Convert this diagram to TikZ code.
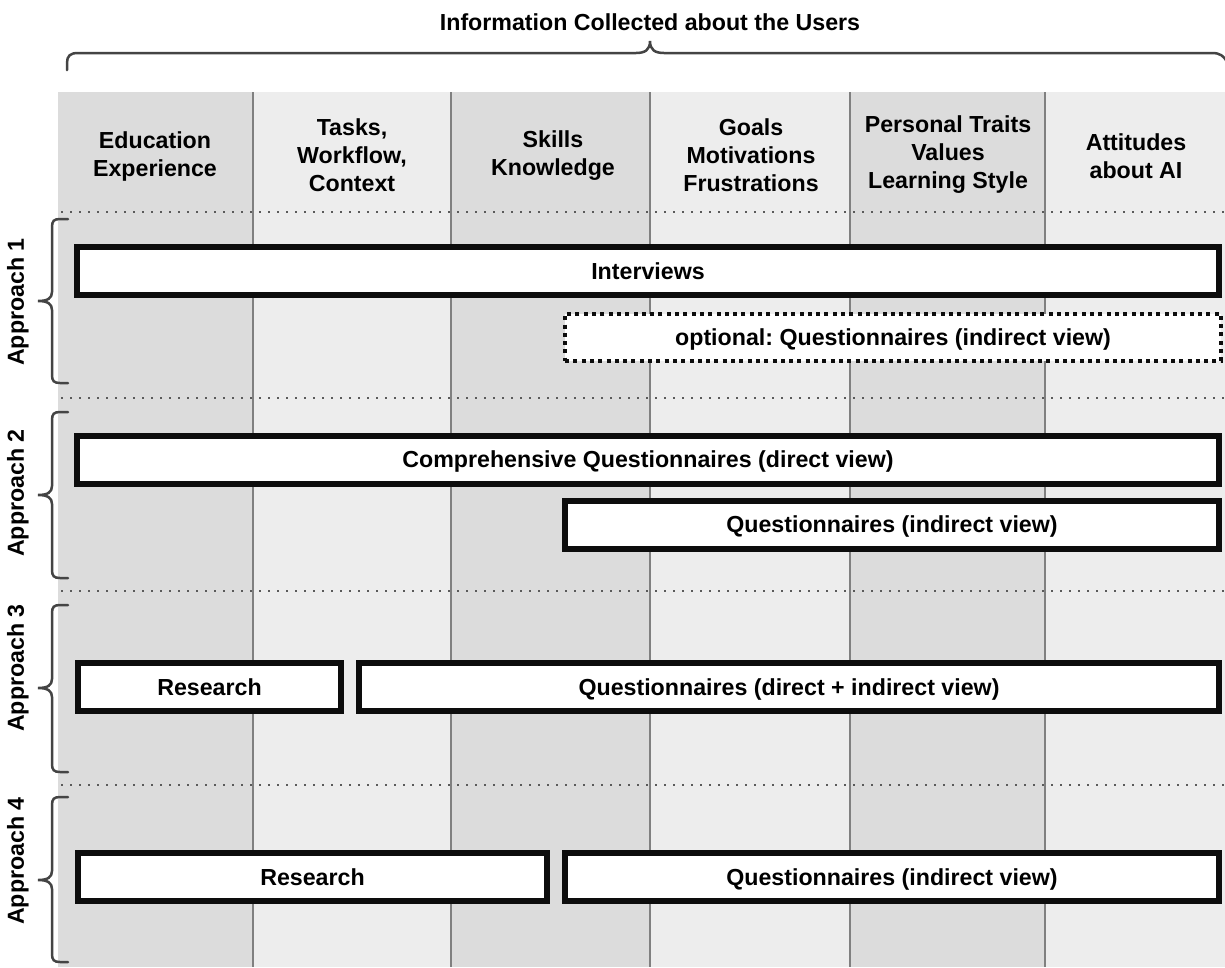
\documentclass[tikz,border=0pt]{standalone}
\usepackage{fontspec}
\setmainfont{Liberation Sans}
\frenchspacing
\definecolor{cdark}{RGB}{220,220,220}
\definecolor{clight}{RGB}{237,237,237}
\definecolor{cdiv}{RGB}{128,128,128}
\definecolor{cbrace}{RGB}{68,68,68}
\definecolor{cdot}{RGB}{90,90,90}
\tikzset{
  txt/.style={font=\bfseries\fontsize{23.2}{28}\selectfont, align=center, inner sep=0pt},
  bx/.style={txt, draw=black!95, line width=6pt, fill=white, minimum height=48pt, text height=20pt, text depth=3.4pt},
  dbx/.style={txt, draw=black!95, line width=4pt, dash pattern=on 4pt off 4.3pt, fill=white, minimum height=47pt, text height=20pt, text depth=3.4pt},
  divline/.style={draw=cdiv, line width=1.5pt},
  dotline/.style={draw=cdot, line width=1.6pt, dash pattern=on 1.6pt off 7.4pt},
  bracestyle/.style={draw=cbrace, line width=2.5pt, line cap=round},
  applabel/.style={txt, rotate=90}
}
\newcommand{\leftbrace}[3]{%
  \draw[bracestyle] (68,#1) -- (60,#1) .. controls (54,#1) and (52,#1+2) .. (52,#1+8)
     -- (52,#3-9) .. controls (52,#3-3) and (48,#3) .. (38,#3)
     .. controls (48,#3) and (52,#3+3) .. (52,#3+9)
     -- (52,#2-8) .. controls (52,#2-2) and (54,#2) .. (60,#2) -- (68,#2);}
\begin{document}
\begin{tikzpicture}[x=1pt,y=-1pt]
\useasboundingbox (0,0) rectangle (1225,967);
\fill[white] (0,0) rectangle (1225,967);
% columns
\fill[cdark]  (58,92) rectangle (253,967);
\fill[clight] (253,92) rectangle (451,967);
\fill[cdark]  (451,92) rectangle (650,967);
\fill[clight] (650,92) rectangle (850,967);
\fill[cdark]  (850,92) rectangle (1045,967);
\fill[clight] (1045,92) rectangle (1225,967);
\foreach \xx in {253,451,650,850,1045} \draw[divline] (\xx,92) -- (\xx,967);
% dotted separators
\foreach \yy in {212,398,591,785} \draw[dotline] (61,\yy) -- (1225,\yy);
% title and top brace
\node[txt] (title) at (650,22) {Information Collected about the Users};
\draw[bracestyle] (67,70) -- (67,63) .. controls (67,56) and (70,53) .. (78,53)
   -- (636,53) .. controls (645,53) and (650,50) .. (650,41)
   .. controls (650,50) and (655,53) .. (664,53)
   -- (1212,53) .. controls (1220,53) and (1224,56) .. (1227,62);
% column headers
\node[txt] (h1) at (155,156) {Education\\Experience};
\node[txt] (h2) at (352,155) {Tasks,\\Workflow,\\Context};
\node[txt] (h3) at (553,156) {Skills\\Knowledge};
\node[txt] (h4) at (751,155) {Goals\\Motivations\\Frustrations};
\node[txt] (h5) at (948,155) {Personal Traits\\Values\\Learning Style};
\node[txt] (h6) at (1136,156) {Attitudes\\about AI};
% left braces and labels
\leftbrace{219}{383}{301}
\leftbrace{412}{578}{495}
\leftbrace{605}{772}{688}
\leftbrace{797}{962}{880}
\node[applabel] (a1) at (18,302) {Approach 1};
\node[applabel] (a2) at (18,493) {Approach 2};
\node[applabel] (a3) at (18,668) {Approach 3};
\node[applabel] (a4) at (18,861) {Approach 4};
% Approach 1
\node[bx, minimum width=1142pt] (interviews) at (648,271) {Interviews};
\node[dbx, minimum width=656pt] (optq) at (893,337.5) {optional: Questionnaires (indirect view)};
% Approach 2
\node[bx, minimum width=1142pt] (compq) at (648,459.5) {Comprehensive Questionnaires (direct view)};
\node[bx, minimum width=654pt] (indq2) at (892,524.5) {Questionnaires (indirect view)};
% Approach 3
\node[bx, minimum width=263pt] (res3) at (209.5,687) {Research};
\node[bx, minimum width=860pt] (dirq3) at (789,687) {Questionnaires (direct + indirect view)};
% Approach 4
\node[bx, minimum width=469pt] (res4) at (312.5,877) {Research};
\node[bx, minimum width=654pt] (indq4) at (892,877) {Questionnaires (indirect view)};
\end{tikzpicture}
\end{document}
